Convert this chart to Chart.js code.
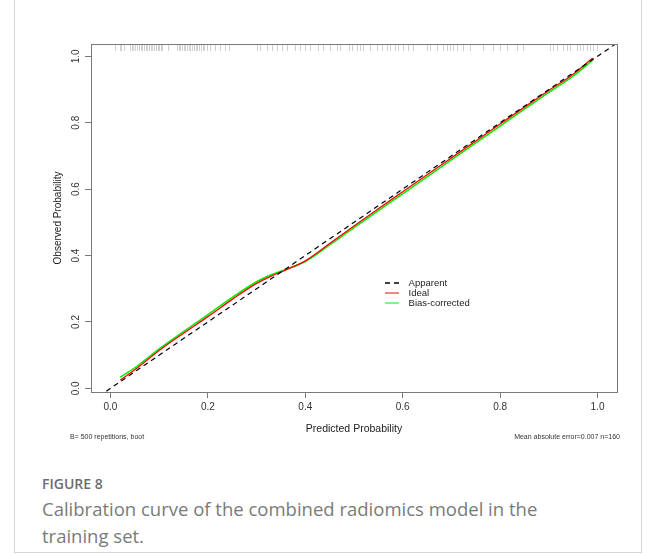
<!DOCTYPE html>
<html>
<head>
<meta charset="utf-8">
<script src="https://cdn.jsdelivr.net/npm/chart.js@4.4.1/dist/chart.umd.min.js"></script>
<style>
  body { margin: 0; background: #fff; width: 656px; height: 554px; position: relative; overflow: hidden; font-family: "Liberation Sans", Arial, sans-serif; }
  #frame { position: absolute; left: 14px; top: -2px; width: 626px; height: 553px; border: 1px solid #d6d6d6; }
  #wrap { position: absolute; left: 0; top: 0; width: 656px; height: 450px; }
  .note { position: absolute; top: 433px; font-size: 7px; color: #333; white-space: nowrap; }
  #fig { position: absolute; left: 42px; top: 474px; font-family: "Open Sans"; font-size: 14px; font-weight: 600; color: #6d6d6d; }
  #cap { position: absolute; left: 42px; top: 495px; font-family: "Open Sans"; font-size: 18.5px; line-height: 27px; color: #7a7a7a; white-space: nowrap; }
</style>
</head>
<body>
<div id="frame"></div>
<div id="wrap"><canvas id="calib" width="656" height="450"></canvas></div>
<div class="note" style="left:70px">B= 500 repetitions, boot</div>
<div class="note" style="right:36px">Mean absolute error=0.007 n=160</div>
<div id="fig">FIGURE 8</div>
<div id="cap">Calibration curve of the combined radiomics model in the<br>training set.</div>

<script>
const xTicks = [0, 0.2, 0.4, 0.6, 0.8, 1.0];
const yTicks = [0, 0.2, 0.4, 0.6, 0.8, 1.0];

// curves
const idealX = [0.02, 0.05, 0.10, 0.15, 0.20, 0.25, 0.30, 0.33, 0.36, 0.40, 0.45, 0.50, 0.55, 0.60, 0.65, 0.70, 0.75, 0.80, 0.85, 0.90, 0.95, 0.99];
const idealY = [0.025, 0.056, 0.114, 0.166, 0.216, 0.268, 0.316, 0.338, 0.357, 0.384, 0.436, 0.489, 0.541, 0.592, 0.643, 0.694, 0.745, 0.796, 0.847, 0.897, 0.946, 0.995];
const biasX = [0.02, 0.05, 0.10, 0.15, 0.20, 0.25, 0.30, 0.33, 0.36, 0.40, 0.45, 0.50, 0.55, 0.60, 0.65, 0.70, 0.75, 0.80, 0.85, 0.90, 0.95, 0.99];
const biasY = [0.034, 0.062, 0.119, 0.171, 0.222, 0.274, 0.321, 0.342, 0.358, 0.382, 0.432, 0.484, 0.535, 0.586, 0.637, 0.688, 0.739, 0.790, 0.841, 0.891, 0.940, 0.988];
const diagX = [-0.1, 1.1];

// rug of predicted values along the top
const rugX = [0.010, 0.019, 0.021, 0.028, 0.040, 0.044, 0.047, 0.051, 0.055, 0.058, 0.062, 0.065, 0.069, 0.072, 0.076, 0.079, 0.083, 0.086, 0.090, 0.093, 0.097, 0.100, 0.103, 0.106,
  0.119, 0.136, 0.140, 0.143, 0.147, 0.150, 0.154, 0.157, 0.161, 0.164, 0.168, 0.171, 0.175, 0.178, 0.182, 0.185, 0.189, 0.192, 0.198,
  0.205, 0.215, 0.225, 0.236, 0.243, 0.301, 0.307, 0.321, 0.331, 0.342, 0.352, 0.362, 0.379, 0.390, 0.400, 0.410, 0.427, 0.437, 0.451,
  0.465, 0.472, 0.489, 0.496, 0.506, 0.513, 0.519, 0.533, 0.547, 0.557, 0.568, 0.574, 0.585, 0.591, 0.601, 0.611, 0.622, 0.650, 0.656,
  0.670, 0.683, 0.691, 0.698, 0.704, 0.711, 0.724, 0.739, 0.765, 0.786, 0.800, 0.814, 0.834, 0.847, 0.903, 0.909, 0.917, 0.930, 0.937,
  0.944, 0.958, 0.965, 0.971, 0.978, 0.985, 0.991, 0.999];

const legendNames = ['Apparent', 'Ideal', 'Bias-corrected'];
const lineColors = ['#000000', '#ff0000', '#00ee00'];

const FONT = 'Liberation Sans';

function pts(xs, ys) {
    return xs.map((x, i) => ({ x: x, y: ys[i] }));
}

// box, rug, rotated y labels and legend, R style
const rDecor = {
    id: 'rDecor',
    afterDatasetsDraw(chart) {
        const { ctx, chartArea: a, scales: { x, y } } = chart;
        ctx.save();
        ctx.strokeStyle = '#d0d0d0';
        ctx.lineWidth = 1;
        rugX.forEach(v => {
            const px = Math.round(x.getPixelForValue(v)) + 0.5;
            ctx.beginPath();
            ctx.moveTo(px, a.top);
            ctx.lineTo(px, a.top + 7);
            ctx.stroke();
        });
        ctx.strokeStyle = '#7a7a7a';
        ctx.strokeRect(Math.round(a.left) + 0.5, Math.round(a.top) + 0.5, Math.round(a.right - a.left), Math.round(a.bottom - a.top));

        ctx.fillStyle = '#333';
        ctx.font = '10px ' + FONT;
        ctx.textAlign = 'center';
        ctx.textBaseline = 'middle';
        yTicks.forEach(v => {
            ctx.save();
            ctx.translate(76, y.getPixelForValue(v));
            ctx.rotate(-Math.PI / 2);
            ctx.fillText(v.toFixed(1), 0, 0);
            ctx.restore();
        });

        // legend
        const lx = Math.round(x.getPixelForValue(0.564)), tx = x.getPixelForValue(0.612);
        const top = Math.round(y.getPixelForValue(0.318));
        ctx.textAlign = 'left';
        ctx.font = '9.5px ' + FONT;
        legendNames.forEach((name, i) => {
            const py = top + i * 10;
            ctx.strokeStyle = lineColors[i];
            ctx.lineWidth = i === 0 ? 1.4 : 1;
            ctx.setLineDash(i === 0 ? [5, 4] : []);
            ctx.beginPath();
            ctx.moveTo(lx, py);
            ctx.lineTo(lx + 14, py);
            ctx.stroke();
            ctx.setLineDash([]);
            ctx.fillStyle = '#222';
            ctx.fillText(name, tx, py);
        });
        ctx.restore();
    }
};

new Chart(document.getElementById('calib'), {
    type: 'line',
    data: {
        datasets: [
            {
                label: legendNames[0],
                data: pts(diagX, diagX),
                borderColor: lineColors[0],
                borderWidth: 1.2,
                borderDash: [5, 4],
                pointRadius: 0,
                order: 0
            },
            {
                label: legendNames[1],
                data: pts(idealX, idealY),
                borderColor: lineColors[1],
                borderWidth: 1.3,
                pointRadius: 0,
                cubicInterpolationMode: 'monotone',
                order: 1
            },
            {
                label: legendNames[2],
                data: pts(biasX, biasY),
                borderColor: lineColors[2],
                borderWidth: 1.5,
                pointRadius: 0,
                cubicInterpolationMode: 'monotone',
                order: 2
            }
        ]
    },
    options: {
        responsive: false,
        animation: false,
        layout: { padding: { top: 44, right: 39, left: 0, bottom: 0 } },
        plugins: {
            legend: { display: false },
            tooltip: { enabled: false }
        },
        scales: {
            x: {
                type: 'linear',
                min: -0.04,
                max: 1.04,
                afterBuildTicks: s => { s.ticks = xTicks.map(v => ({ value: v })); },
                afterFit: s => { s.height = 58; },
                border: { display: false },
                grid: { drawOnChartArea: false, drawTicks: true, tickLength: 6, color: '#7a7a7a' },
                ticks: { color: '#333', font: { family: FONT, size: 10 }, padding: 3, maxRotation: 0, callback: v => v.toFixed(1) },
                title: { display: true, text: 'Predicted Probability', color: '#222', font: { family: FONT, size: 10.5 }, padding: { top: 0, bottom: 15 } }
            },
            y: {
                type: 'linear',
                min: -0.011,
                max: 1.037,
                afterBuildTicks: s => { s.ticks = yTicks.map(v => ({ value: v })); },
                afterFit: s => { s.width = 91; },
                border: { display: false },
                grid: { drawOnChartArea: false, drawTicks: true, tickLength: 6, color: '#7a7a7a' },
                ticks: { display: false },
                title: { display: true, text: 'Observed Probability', color: '#222', font: { family: FONT, size: 10 }, padding: { top: 52, bottom: 0 } }
            }
        }
    },
    plugins: [rDecor]
});
</script>
</body>
</html>
